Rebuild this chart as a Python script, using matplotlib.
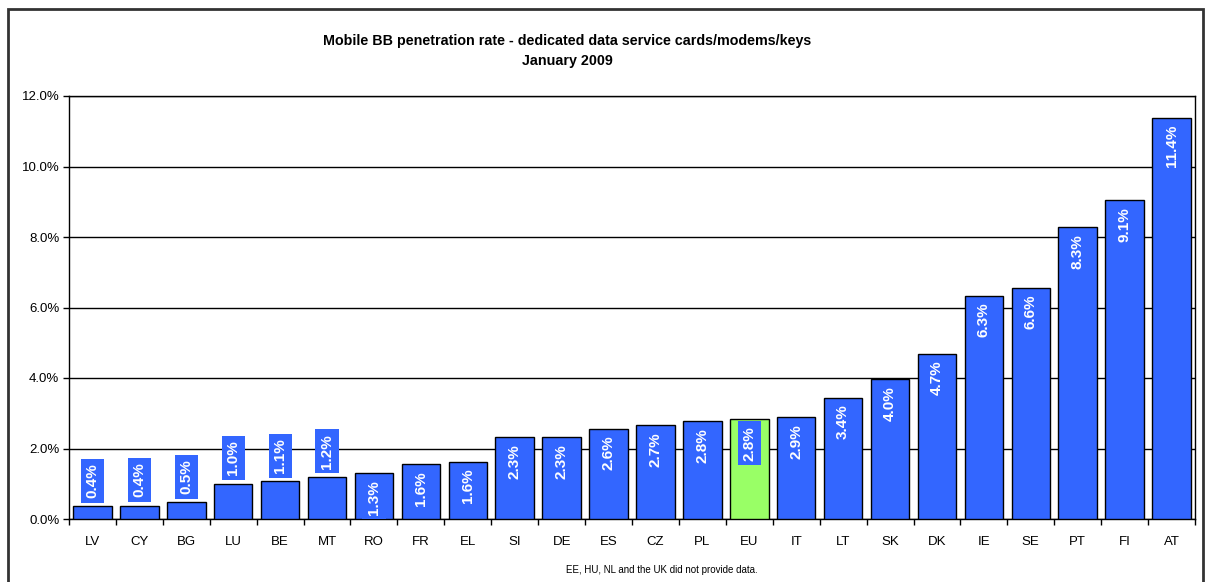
import matplotlib
matplotlib.use("Agg")
import matplotlib.pyplot as plt
from matplotlib.patches import Rectangle
from matplotlib.ticker import FuncFormatter, MultipleLocator

countries = ["LV", "CY", "BG", "LU", "BE", "MT", "RO", "FR", "EL", "SI", "DE", "ES",
             "CZ", "PL", "EU", "IT", "LT", "SK", "DK", "IE", "SE", "PT", "FI", "AT"]
values = [0.36, 0.38, 0.47, 1.00, 1.07, 1.19, 1.31, 1.55, 1.63, 2.32, 2.32, 2.56,
          2.66, 2.78, 2.84, 2.88, 3.44, 3.96, 4.69, 6.33, 6.56, 8.28, 9.05, 11.38]
highlight = "EU"

title_text = "Mobile BB penetration rate - dedicated data service cards/modems/keys\nJanuary 2009"
note_text = "EE, HU, NL and the UK did not provide data."

BLUE = "#3366FF"
GREEN = "#99FF66"

plt.rcParams['font.family'] = ['Liberation Sans', 'DejaVu Sans']

fig = plt.figure(figsize=(12.05, 5.82), dpi=100)
W, H = 1205, 582
ax = fig.add_axes([69 / W, 1 - 519 / H, (1195 - 69) / W, (519 - 96) / H])

x = list(range(len(countries)))
colors = [GREEN if c == highlight else BLUE for c in countries]
ax.bar(x, values, width=0.82, color=colors, edgecolor="black", linewidth=1.0, zorder=3)

ax.set_xlim(-0.5, len(countries) - 0.5)
ax.set_ylim(0, 12)
ax.yaxis.set_major_locator(MultipleLocator(2))
ax.yaxis.set_major_formatter(FuncFormatter(lambda v, p: f"{v:.1f}%"))
ax.grid(axis="y", color="black", linewidth=1.0, zorder=0)
ax.set_axisbelow(True)

ax.set_xticks(x)
ax.set_xticklabels(countries, fontsize=9.5)
ax.set_xticks([i - 0.5 for i in range(len(countries) + 1)], minor=True)
ax.tick_params(axis="x", which="major", length=0, pad=12)
ax.tick_params(axis="x", which="minor", length=4, width=1, direction="out")
ax.tick_params(axis="y", length=4, width=1, labelsize=9.5, pad=3)
for s in ax.spines.values():
    s.set_linewidth(1.0)
    s.set_color("black")

for xi, v in zip(x, values):
    label = f"{v:.1f}%"
    outside = v < 1.25
    ax.annotate(label, (xi, v), xytext=(0, 6 if outside else -5), textcoords="offset points",
                rotation=90, ha="center", va="bottom" if outside else "top", color="white",
                fontsize=11, fontweight="bold", zorder=5,
                bbox=dict(boxstyle="square,pad=0.3", facecolor=BLUE, edgecolor="none"))

fig.text(567 / W, 1 - 51 / H, title_text, ha="center", va="center",
         fontsize=10.3, fontweight="bold", linespacing=1.6)
fig.text(662 / W, 1 - 570 / H, note_text, ha="center", va="center", fontsize=7)

fig.patches.append(Rectangle((8 / W, -0.05), (1203 - 8) / W, 1 - 9 / H + 0.05,
                             transform=fig.transFigure, fill=False,
                             edgecolor="#333333", linewidth=2))

fig.savefig("out.png", dpi=100)
